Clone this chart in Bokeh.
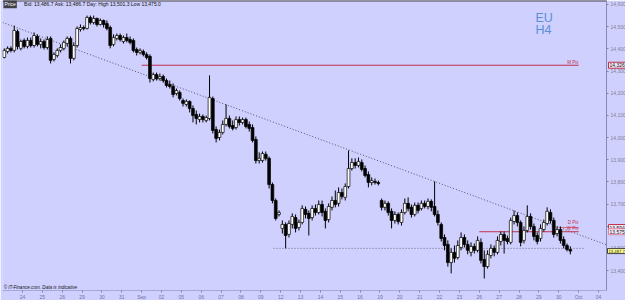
from bokeh.plotting import figure
from bokeh.models import ColumnDataSource, FixedTicker, NumeralTickFormatter, Span, Label, Range1d
from bokeh.embed import file_html
from bokeh.resources import INLINE

# ---------------- data ----------------
day_labels = ["24", "25", "26", "29", "30", "31", "Sep", "02", "05", "06", "07", "08", "09",
              "12", "13", "14", "15", "16", "19", "20", "21", "22", "23", "26", "27", "28",
              "29", "30", "Oct", "04"]
candles_per_day = 6
first_day = -1  # data starts one session before the first label

open_ = [14361, 14388, 14402, 14393, 14478, 14402,
         14438, 14411, 14438, 14415, 14456, 14420,
         14433, 14406, 14447, 14352, 14370, 14393,
         14402, 14424, 14447, 14357, 14415, 14487,
         14496, 14492, 14541, 14519, 14537, 14510,
         14528, 14514, 14496, 14420, 14447, 14460,
         14433, 14451, 14442, 14438, 14397, 14384,
         14388, 14375, 14366, 14262, 14284, 14266,
         14275, 14257, 14239, 14230, 14199, 14203,
         14167, 14149, 14163, 14131, 14104, 14081,
         14095, 14077, 14086, 14176, 14036, 14000,
         14023, 14059, 14086, 14054, 14045, 14081,
         14068, 14081, 14059, 14045, 13991, 13896,
         13896, 13924, 13906, 13788, 13716, 13653,
         13590, 13608, 13563, 13608, 13639, 13594,
         13617, 13676, 13658, 13639, 13680, 13662,
         13698, 13667, 13630, 13685, 13716, 13703,
         13752, 13730, 13779, 13860, 13887, 13874,
         13887, 13860, 13833, 13797, 13802, 13797,
         13716, 13685, 13703, 13667, 13626, 13653,
         13617, 13662, 13703, 13685, 13653, 13694,
         13680, 13703, 13689, 13712, 13689, 13653,
         13608, 13549, 13518, 13436, 13482, 13459,
         13504, 13549, 13518, 13482, 13509, 13491,
         13527, 13450, 13418, 13468, 13500, 13482,
         13531, 13563, 13545, 13527, 13621, 13648,
         13617, 13536, 13581, 13644, 13599, 13558,
         13545, 13585, 13612, 13662, 13626, 13567,
         13585, 13540, 13513, 13495]
high = [14402, 14411, 14411, 14505, 14487, 14442,
        14447, 14451, 14451, 14474, 14465, 14447,
        14442, 14456, 14456, 14384, 14402, 14420,
        14438, 14456, 14456, 14429, 14501, 14510,
        14505, 14550, 14550, 14550, 14541, 14537,
        14532, 14528, 14505, 14465, 14469, 14469,
        14460, 14469, 14456, 14447, 14406, 14402,
        14397, 14384, 14375, 14293, 14293, 14289,
        14284, 14266, 14257, 14244, 14221, 14212,
        14176, 14172, 14167, 14145, 14122, 14108,
        14104, 14099, 14280, 14185, 14050, 14036,
        14077, 14149, 14099, 14077, 14095, 14095,
        14090, 14090, 14072, 14059, 14005, 13933,
        13937, 13937, 13915, 13797, 13725, 13671,
        13626, 13617, 13626, 13658, 13653, 13630,
        13694, 13689, 13671, 13694, 13698, 13716,
        13716, 13680, 13703, 13734, 13761, 13775,
        13770, 13793, 13942, 13906, 13906, 13910,
        13901, 13874, 13847, 13820, 13815, 13806,
        13725, 13716, 13712, 13680, 13667, 13662,
        13676, 13725, 13730, 13698, 13707, 13707,
        13716, 13716, 13725, 13721, 13802, 13671,
        13617, 13563, 13536, 13500, 13513, 13536,
        13572, 13563, 13536, 13527, 13522, 13554,
        13545, 13491, 13491, 13518, 13513, 13554,
        13576, 13576, 13558, 13639, 13671, 13662,
        13626, 13599, 13694, 13658, 13612, 13572,
        13608, 13630, 13685, 13676, 13639, 13599,
        13599, 13554, 13522, 13509]
low = [14357, 14379, 14384, 14384, 14397, 14393,
       14402, 14402, 14406, 14406, 14411, 14402,
       14397, 14397, 14334, 14343, 14361, 14384,
       14393, 14411, 14334, 14348, 14406, 14478,
       14483, 14487, 14510, 14510, 14501, 14505,
       14496, 14483, 14402, 14411, 14438, 14433,
       14424, 14429, 14420, 14384, 14370, 14375,
       14366, 14352, 14248, 14253, 14257, 14257,
       14248, 14226, 14221, 14181, 14190, 14167,
       14140, 14140, 14113, 14068, 14059, 14068,
       14068, 14068, 14077, 14018, 13978, 13987,
       14014, 14050, 14041, 14032, 14036, 14054,
       14059, 14041, 14027, 13978, 13883, 13883,
       13887, 13896, 13770, 13703, 13626, 13644,
       13567, 13500, 13549, 13590, 13572, 13581,
       13608, 13635, 13558, 13626, 13648, 13653,
       13644, 13590, 13617, 13671, 13685, 13689,
       13721, 13716, 13770, 13851, 13860, 13865,
       13847, 13820, 13775, 13784, 13788, 13784,
       13671, 13671, 13648, 13590, 13612, 13608,
       13603, 13653, 13667, 13639, 13644, 13658,
       13671, 13680, 13676, 13667, 13644, 13603,
       13531, 13491, 13418, 13387, 13436, 13450,
       13491, 13504, 13473, 13464, 13477, 13482,
       13432, 13364, 13409, 13455, 13464, 13473,
       13513, 13477, 13518, 13518, 13608, 13599,
       13509, 13522, 13572, 13585, 13536, 13518,
       13531, 13576, 13603, 13612, 13549, 13554,
       13522, 13500, 13486, 13473]
close = [14393, 14402, 14393, 14483, 14411, 14433,
         14411, 14438, 14415, 14460, 14420, 14433,
         14406, 14442, 14348, 14375, 14393, 14406,
         14429, 14447, 14357, 14415, 14492, 14496,
         14492, 14541, 14519, 14537, 14510, 14528,
         14510, 14492, 14415, 14451, 14460, 14442,
         14451, 14438, 14429, 14393, 14384, 14393,
         14375, 14361, 14266, 14284, 14266, 14275,
         14257, 14235, 14230, 14194, 14212, 14176,
         14154, 14163, 14131, 14099, 14086, 14095,
         14081, 14090, 14181, 14032, 13996, 14023,
         14059, 14086, 14050, 14041, 14081, 14068,
         14081, 14050, 14041, 13987, 13896, 13906,
         13928, 13906, 13788, 13716, 13635, 13662,
         13608, 13558, 13612, 13644, 13590, 13617,
         13680, 13653, 13635, 13680, 13662, 13698,
         13662, 13626, 13689, 13716, 13698, 13752,
         13734, 13779, 13860, 13887, 13874, 13892,
         13856, 13829, 13797, 13806, 13797, 13793,
         13685, 13703, 13662, 13626, 13653, 13621,
         13662, 13703, 13680, 13653, 13694, 13671,
         13703, 13689, 13712, 13685, 13653, 13617,
         13545, 13513, 13436, 13482, 13455, 13513,
         13549, 13518, 13491, 13509, 13491, 13536,
         13446, 13418, 13473, 13500, 13482, 13536,
         13563, 13536, 13531, 13626, 13648, 13617,
         13527, 13581, 13644, 13599, 13554, 13531,
         13590, 13617, 13667, 13626, 13563, 13585,
         13536, 13513, 13495, 13487.7]

price_ticks = [13400, 13500, 13600, 13700, 13800, 13900, 14000, 14100, 14200, 14300, 14400, 14500, 14600]

m_piv = 14326
w_piv = 13575
d_piv = 13594
last_price = 13487.7
support_level = 13500
support_from_day, support_to_day = 12.64, 28.25
trend_days = [-1.0, 29.5]
trend_prices = [14519, 13513]
piv_end_day = 28.0
m_piv_start, w_piv_start, d_piv_start = 6.0, 23.0, 27.0

header_text = "Bid: 13,486.7  Ask: 13,486.7  Day: High 13,501.3  Low 13,475.0"
copyright_text = "\u00a9 IT-Finance.com. Data is indicative"

# ---------------- figure ----------------
BG = "#d0d0ff"
FONT = "Liberation Sans"
x0, x1 = -1.007, 29.405
y0, y1 = 13310, 14618

p = figure(frame_width=604, frame_height=290, x_range=Range1d(x0, x1), y_range=Range1d(y0, y1),
           output_backend="svg", toolbar_location=None, y_axis_location="right",
           min_border_left=2, min_border_right=19, min_border_top=0, min_border_bottom=8)
p.background_fill_color = BG
p.border_fill_color = BG
p.outline_line_color = None
p.grid.visible = False

n = len(open_)
xs = [first_day + (i + 0.5) / candles_per_day for i in range(n)]
tops = [max(o, c) for o, c in zip(open_, close)]
bots = [min(o, c) for o, c in zip(open_, close)]
fills = ["white" if c >= o else "black" for o, c in zip(open_, close)]
src = ColumnDataSource(dict(x=xs, high=high, low=low, top=tops, bottom=bots, fill=fills))

# trend line + support
p.line(trend_days, trend_prices, line_color="#505068", line_width=1, line_dash="1 2")
p.line([support_from_day, support_to_day], [support_level, support_level],
       line_color="#6a6a80", line_width=1, line_dash="1 2")

# pivots
PIV = "#c0304c"
p.line([m_piv_start, piv_end_day], [m_piv, m_piv], line_color=PIV, line_width=1)
p.line([w_piv_start, piv_end_day], [w_piv, w_piv], line_color=PIV, line_width=1)
p.line([d_piv_start, piv_end_day], [d_piv, d_piv], line_color="#e06080", line_width=1)
for txt, lvl, dy in (("M Piv", m_piv, 3), ("W Piv", w_piv, 3), ("D Piv", d_piv, 12)):
    p.add_layout(Label(x=piv_end_day, y=lvl + dy, text=txt, text_align="right",
                       text_baseline="bottom", text_font_size="4.5px", text_color="#c0304c",
                       text_font=FONT))

# candles
p.segment("x", "high", "x", "low", source=src, line_color="black", line_width=1)
p.vbar(x="x", width=0.14, top="top", bottom="bottom", source=src,
       fill_color="fill", line_color="black", line_width=0.7)

# axes
xa = p.xaxis[0]
xa.ticker = FixedTicker(ticks=list(range(len(day_labels))))
xa.major_label_overrides = {i: l for i, l in enumerate(day_labels)}
xa.major_label_text_font_size = "5px"
xa.major_label_text_font = FONT
xa.major_label_text_color = "#7070a8"
xa.major_tick_in = 0
xa.major_tick_out = 2
xa.minor_tick_line_color = None
xa.major_tick_line_color = "#8080b0"
xa.axis_line_color = "#a8a8d8"
xa.major_label_standoff = 1

ya = p.yaxis[0]
ya.ticker = FixedTicker(ticks=price_ticks)
ya.formatter = NumeralTickFormatter(format="0,0")
ya.major_label_text_font_size = "5px"
ya.major_label_text_font = FONT
ya.major_label_text_color = "#808098"
ya.major_tick_in = 0
ya.major_tick_out = 2
ya.minor_tick_line_color = None
ya.major_tick_line_color = "#8080a8"
ya.axis_line_color = "#8888b0"
ya.major_label_standoff = 2

# price boxes on the right axis: placed in the right side panel so they are not clipped
def box(level, txt, fill, border, color="#202020", size="5px", xoff=2):
    p.add_layout(Label(x=x1, y=level, text=txt, text_baseline="middle",
                       x_offset=xoff,
                       text_font_size=size, text_font=FONT, text_color=color,
                       background_fill_color=fill, border_line_color=border,
                       border_line_width=1, padding=1), "right")

box(m_piv, "14,326", "#f0e8f8", "#c0304c")
box(d_piv, "13,594", "#f0e8f8", "#c0304c")
box(w_piv, "13,575", "#f0e8f8", "#e080a0")
box(last_price, "13,487.7", "#ffff90", "#404040", size="4.2px", xoff=1)

# header and texts
p.add_layout(Span(location=y1, dimension="width", line_color="#404048", line_width=2))
p.add_layout(Label(x=-0.96, y=14601, text="Price", text_baseline="middle",
                   text_font_size="5px", text_font=FONT, text_color="white",
                   background_fill_color="#404048", padding=1))
p.add_layout(Label(x=0.08, y=14601, text=header_text, text_baseline="middle",
                   text_font_size="5px", text_font=FONT, text_color="#101010"))
p.add_layout(Label(x=-0.95, y=13322, text=copyright_text, text_baseline="middle",
                   text_font_size="4.6px", text_font=FONT, text_font_style="italic",
                   text_color="#101010"))
p.add_layout(Label(x=25.83, y=14539, text="EU", text_baseline="middle",
                   text_font_size="12.5px", text_font=FONT, text_color="#5a8fd8"))
p.add_layout(Label(x=25.83, y=14487, text="H4", text_baseline="middle",
                   text_font_size="12.5px", text_font=FONT, text_color="#5a8fd8"))

html = file_html(p, INLINE)
html = html.replace("<body>", '<body style="margin:0;overflow:hidden;background:#3a3a40">', 1)
open("out.html", "w").write(html)
